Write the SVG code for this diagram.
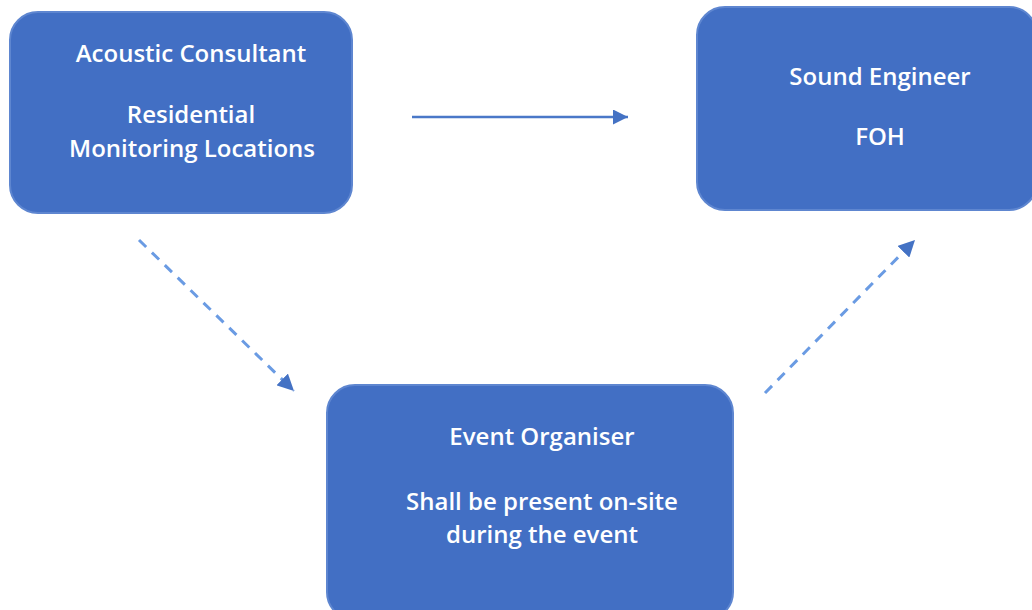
<svg xmlns="http://www.w3.org/2000/svg" width="1032" height="610" viewBox="0 0 1032 610">
<style>
.box{fill:#426FC4;stroke:#5E86D0;stroke-width:2}
.t{fill:#FFFFFF;font-family:"Open Sans","Liberation Sans",sans-serif;font-weight:600;font-size:24px;text-anchor:middle}
.solid{stroke:#4A78C8;stroke-width:2.5;fill:none}
.dash{stroke:#6A9BE3;stroke-width:3;fill:none;stroke-dasharray:10 8}
</style>
<defs>
<marker id="ah" viewBox="0 0 10 10" refX="10" refY="5" markerWidth="6" markerHeight="6" markerUnits="strokeWidth" orient="auto">
<path d="M0,0 L10,5 L0,10 z" fill="#4472C4"/>
</marker>
<marker id="ah2" viewBox="0 0 10 10" refX="10" refY="5" markerWidth="5.5" markerHeight="5.5" markerUnits="strokeWidth" orient="auto">
<path d="M0,0 L10,5 L0,10 z" fill="#4472C4"/>
</marker>
</defs>
<rect width="1032" height="610" fill="#FFFFFF"/>
<g id="connectors">
<line class="solid" x1="412" y1="117" x2="628" y2="117" marker-end="url(#ah)"/>
<line class="dash" x1="139" y1="240" x2="294" y2="391" marker-end="url(#ah2)"/>
<line class="dash" x1="765" y1="393" x2="915" y2="240" marker-end="url(#ah2)"/>
</g>
<g id="acoustic-consultant">
<rect class="box" x="10" y="12" width="342" height="201" rx="28"/>
<text class="t" x="191" y="62">Acoustic Consultant</text>
<text class="t" x="191" y="123">Residential</text>
<text class="t" x="192" y="157">Monitoring Locations</text>
</g>
<g id="sound-engineer">
<rect class="box" x="697" y="7" width="340" height="203" rx="28"/>
<text class="t" x="880" y="85">Sound Engineer</text>
<text class="t" x="880" y="145">FOH</text>
</g>
<g id="event-organiser">
<rect class="box" x="327" y="385" width="406" height="235" rx="28"/>
<text class="t" x="542" y="445">Event Organiser</text>
<text class="t" x="542" y="510">Shall be present on-site</text>
<text class="t" x="542" y="543">during the event</text>
</g>
</svg>
